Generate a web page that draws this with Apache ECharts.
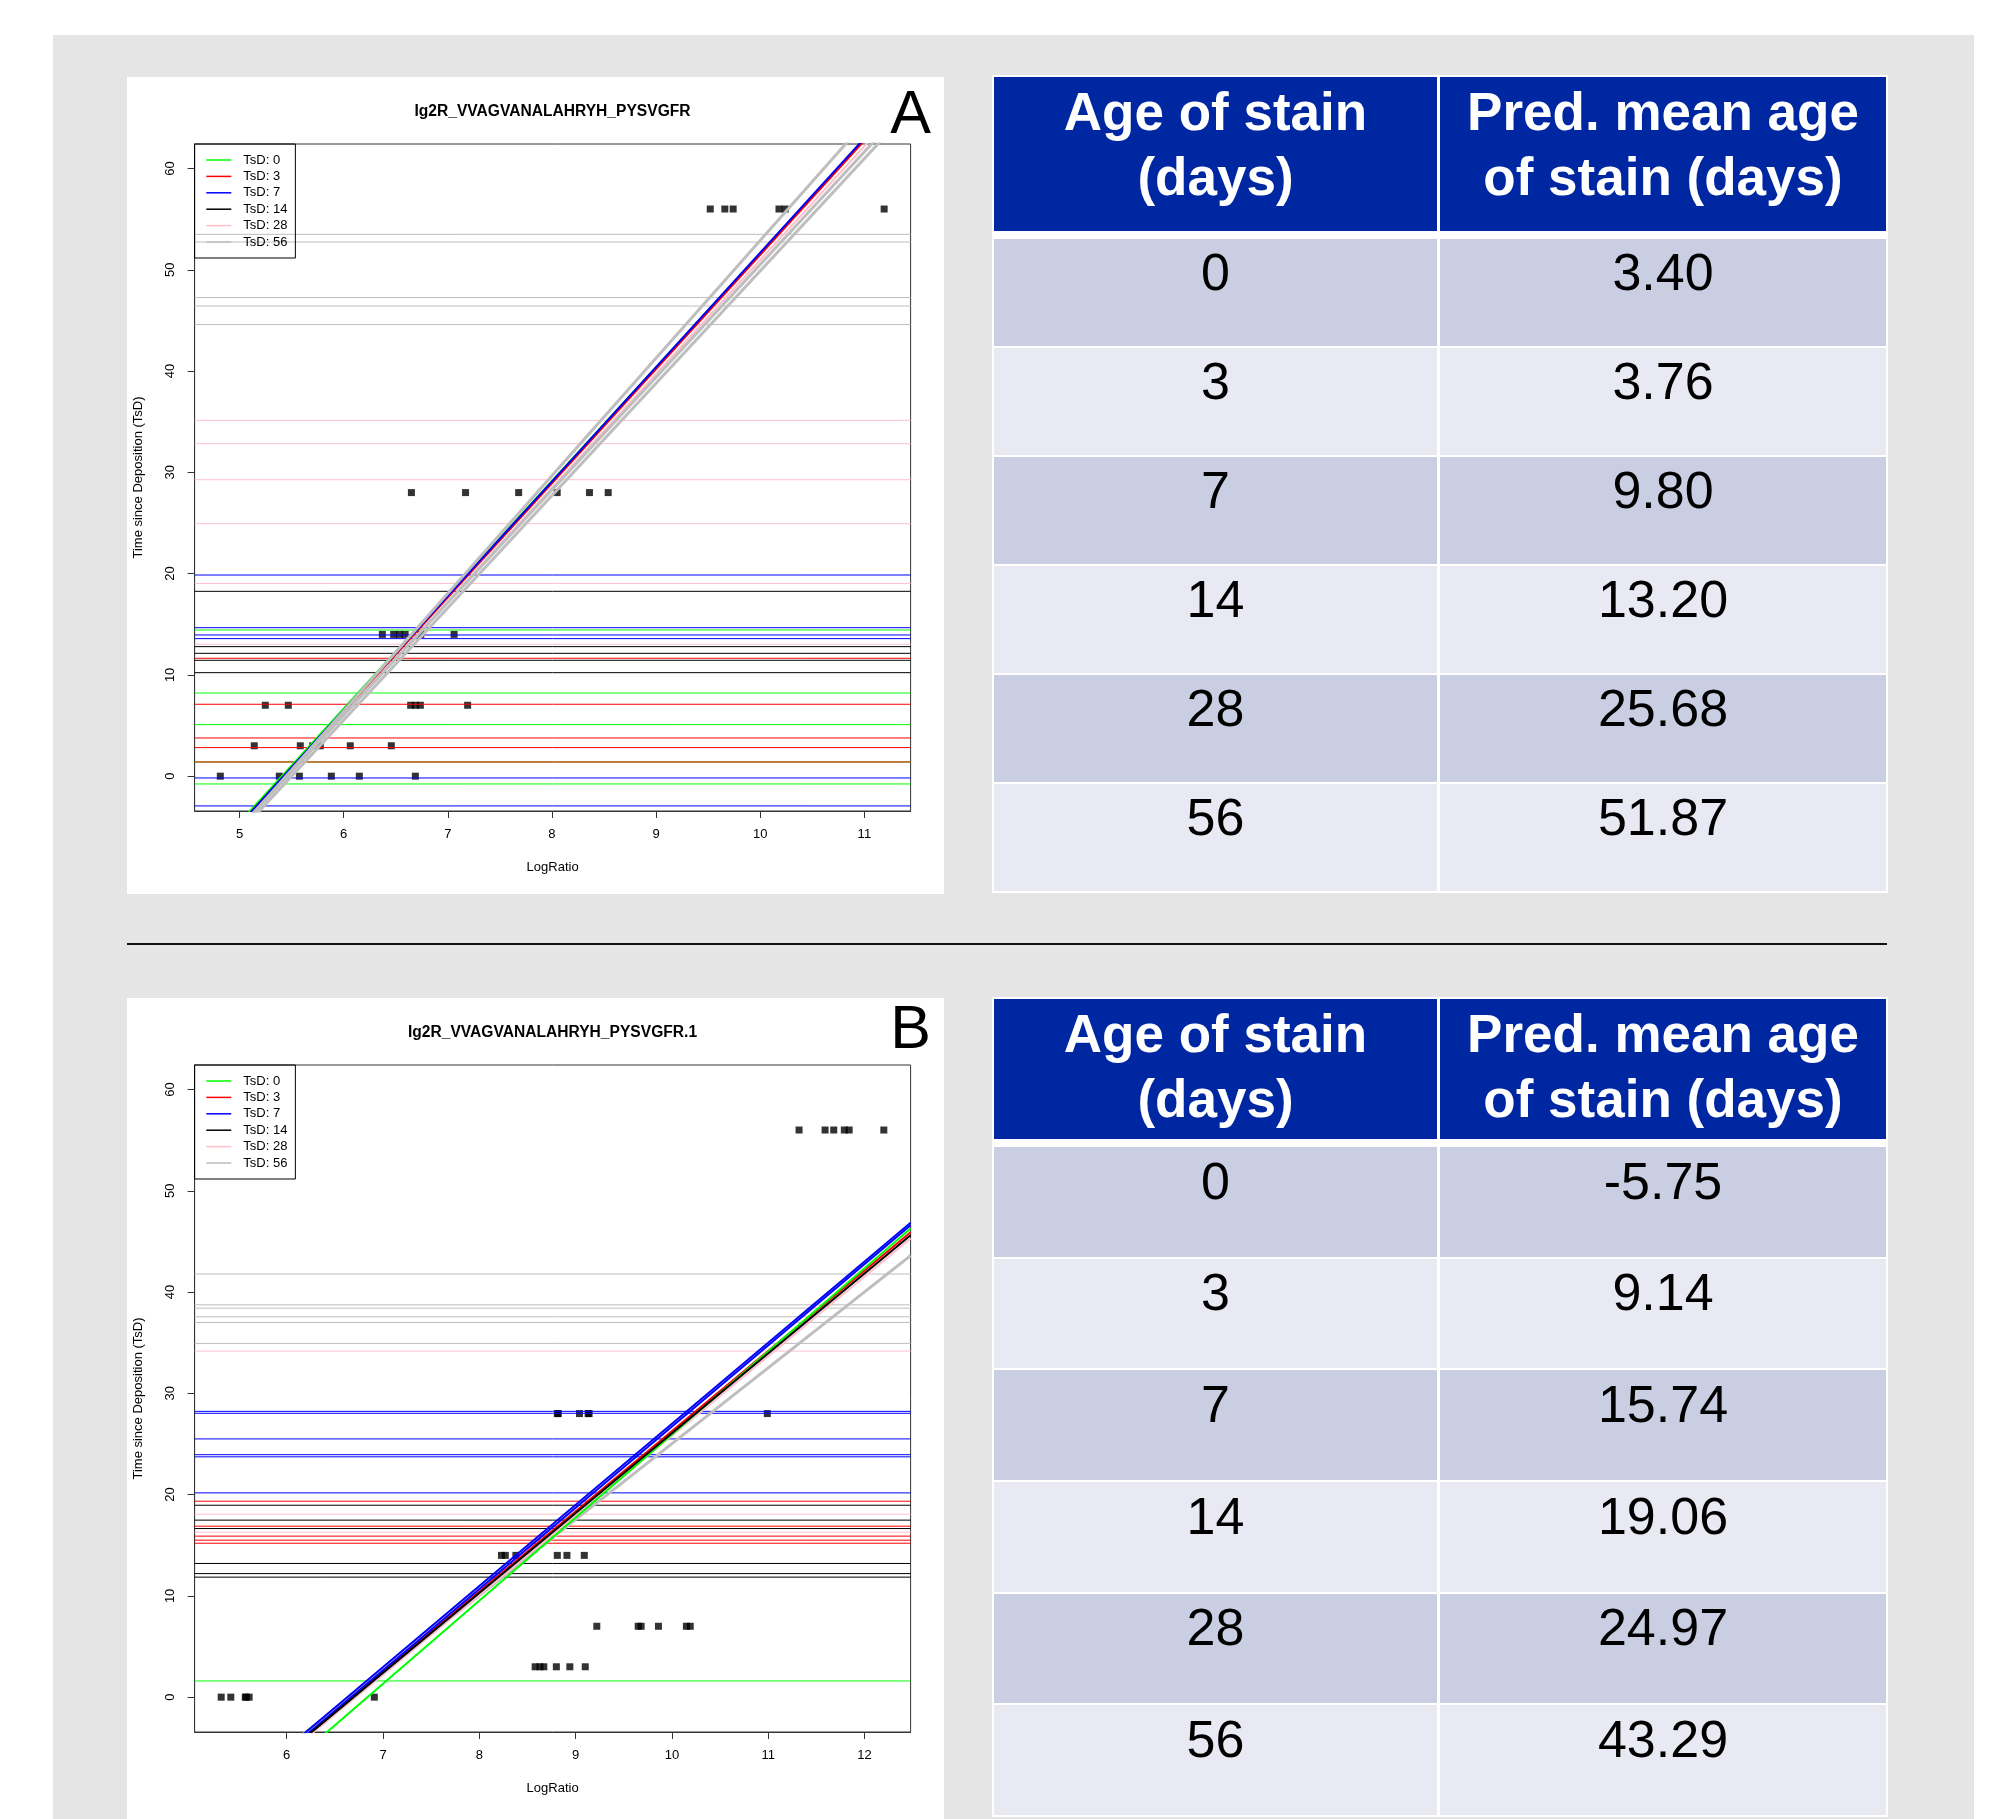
<!DOCTYPE html>
<html>
<head>
<meta charset="utf-8">
<title>Ig2R_VVAGVANALAHRYH_PYSVGFR</title>
<script src="https://cdn.jsdelivr.net/npm/echarts@6.0.0/dist/echarts.min.js"></script>
<style>
  html, body { margin: 0; padding: 0; background: #fff; }
  body { width: 1990px; height: 1819px; position: relative; overflow: hidden;
         font-family: "Liberation Sans", Arial, Helvetica, sans-serif; }
  #bg { position: absolute; left: 53px; top: 35px; width: 1921px; height: 1784px; background: #e5e5e5; }
  .panel { position: absolute; left: 127px; width: 817px; background: #fff; }
  #chartA { top: 77px; height: 817px; }
  #chartB { top: 998px; height: 821px; }
  #sep { position: absolute; left: 127px; top: 943px; width: 1760px; height: 2px; background: #111; }
  .tbl { position: absolute; left: 992px; width: 896px; box-sizing: border-box; padding: 2px;
         background: #fff; display: grid; grid-template-columns: 443px 446px; column-gap: 3px; row-gap: 2px; }
  .tbl .hd { background: #0027a2; color: #fff; font-weight: bold; font-size: 53px; line-height: 65px;
             text-align: center; padding-top: 2px; box-sizing: border-box; margin-bottom: 6px; }
  .tbl .cell { font-size: 52px; line-height: 60px; text-align: center; box-sizing: border-box; color: #000; }
  .tbl .odd { background: #cacee2; }
  .tbl .even { background: #e8e9f2; }
  #tableA { top: 75px; }
  #tableA .hd { height: 154px; }
  #tableA .cell { height: 107px; padding-top: 2.5px; }
  #tableB { top: 997px; }
  #tableB .hd { height: 140px; }
  #tableB .cell { height: 109.7px; padding-top: 3.5px; }
</style>
</head>
<body>
<div id="bg"></div>
<div id="chartA" class="panel"></div>
<div id="chartB" class="panel"></div>
<div id="sep"></div>
<div id="tableA" class="tbl"></div>
<div id="tableB" class="tbl"></div>
<script>
// 共用：TsD分组、图例名、颜色 (R: green, red, blue, black, pink, gray)
const tsdLevels = [0, 3, 7, 14, 28, 56];
const legendNames = tsdLevels.map(d => 'TsD: ' + d);
const groupColors = ['#00ff00', '#ff0000', '#0000ff', '#000000', '#ffc0cb', '#bebebe'];
const fitWidths = [2, 2, 2, 2, 2, 3];   // 拟合线宽度（灰色较粗）
const yRange = [-3.44, 62.42];
const yTicks = [0, 10, 20, 30, 40, 50, 60];
const fontFamily = '"Liberation Sans", Arial, Helvetica, sans-serif';

// 表格
const headerCols = [['Age of stain', '(days)'], ['Pred. mean age', 'of stain (days)']];
const predMeanA = [3.40, 3.76, 9.80, 13.20, 25.68, 51.87];
const predMeanB = [-5.75, 9.14, 15.74, 19.06, 24.97, 43.29];

// ---- A ----
const titleA = 'Ig2R_VVAGVANALAHRYH_PYSVGFR';
const xRangeA = [4.568, 11.444];
const xTicksA = [5, 6, 7, 8, 9, 10, 11];
// 每个TsD分组的样本 LogRatio
const logRatioA = [
    [4.815, 5.381, 5.574, 5.881, 6.15, 6.688],
    [5.141, 5.583, 5.702, 5.775, 6.063, 6.457],
    [5.247, 5.468, 6.643, 6.688, 6.736, 7.19],
    [6.371, 6.48, 6.535, 6.59, 6.74, 7.06],
    [6.65, 7.17, 7.68, 8.05, 8.36, 8.54],
    [9.52, 9.66, 9.74, 10.18, 10.24, 11.19]
];
// 每个分组的水平线 (预测TsD)
const hLinesA = [
    [14.43, 8.21, 5.09, 1.40, -0.77],
    [11.64, 7.10, 3.77, 2.82, 1.40],
    [19.86, 14.66, 13.94, 13.58, -0.18, -2.94],
    [18.25, 12.79, 12.13, 11.44, 10.22],
    [35.13, 32.83, 29.27, 24.93, 19.03, 13.02],
    [53.5, 52.74, 47.26, 46.42, 44.59]
];
// 拟合直线 y = intercept + slope * x （按绘制顺序）
const fitGroupA = [0, 14, 3, 28, 7, 56, 56, 56];
const fitSlopeA = [11.239, 11.277, 11.277, 11.239, 11.297, 11.616, 11.125, 11.088];
const fitInterceptA = [-60.76, -61.18, -61.29, -61.43, -61.28, -63.26, -60.73, -60.99];

// ---- B ----
const titleB = 'Ig2R_VVAGVANALAHRYH_PYSVGFR.1';
const xRangeB = [5.044, 12.478];
const xTicksB = [6, 7, 8, 9, 10, 11, 12];
const logRatioB = [
    [5.32, 5.42, 5.57, 5.58, 5.61, 6.91],
    [8.58, 8.63, 8.67, 8.80, 8.94, 9.10],
    [9.22, 9.65, 9.68, 9.86, 10.15, 10.19],
    [8.23, 8.27, 8.38, 8.81, 8.91, 9.09],
    [8.81, 8.82, 9.04, 9.13, 9.14, 10.99],
    [11.32, 11.59, 11.68, 11.79, 11.84, 12.20]
];
const hLinesB = [
    [1.6],
    [19.35, 16.88, 15.9, 15.5, 15.2],
    [28.22, 28.03, 25.5, 23.94, 23.73, 20.17],
    [18.95, 17.48, 16.65, 13.2, 12.2, 11.85],
    [34.17, 18.07, 16.29],
    [41.78, 38.74, 38.41, 37.56, 37.0, 34.93]
];
const fitGroupB = [56, 28, 3, 7, 7, 0, 14];
const fitSlopeB = [7.493, 7.864, 7.922, 8.011, 8.022, 8.206, 7.887];
const fitInterceptB = [-49.90, -52.83, -52.95, -53.11, -53.50, -56.12, -52.81];


function buildSeries(logRatio, hLines, fitGroup, fitSlope, fitIntercept, xRange) {
    const series = [];
    const x0 = xRange[0], x1 = xRange[1];

    // 样本点 (pch 15 黑色方块)
    tsdLevels.forEach((d, i) => {
        series.push({
            type: 'scatter', name: 'obs', symbol: 'rect', symbolSize: 7,
            itemStyle: { color: '#000' }, silent: true, z: 2,
            data: logRatio[i].map(v => [v, d])
        });
    });

    // 水平线
    tsdLevels.forEach((d, i) => {
        hLines[i].forEach(v => {
            series.push({
                type: 'line', name: legendNames[i], color: groupColors[i],
                symbol: 'none', showSymbol: false, silent: true, z: 3,
                lineStyle: { width: 1, color: groupColors[i] },
                data: [[x0, v], [x1, v]]
            });
        });
    });

    // 拟合线，超出部分由grid裁剪
    fitGroup.forEach((g, k) => {
        const i = tsdLevels.indexOf(g);
        const m = fitSlope[k], b = fitIntercept[k];
        series.push({
            type: 'line', name: legendNames[i], color: groupColors[i],
            symbol: 'none', showSymbol: false, silent: true, z: 4, clip: true,
            lineStyle: { width: fitWidths[i], color: groupColors[i] },
            data: [[x0, b + m * x0], [x1, b + m * x1]]
        });
    });
    return series;
}


function initPlot(el, title, letter, letterY, xRange, xTicks, series) {
    const chart = echarts.init(el);
    const axisText = { fontSize: 13, color: '#000', fontFamily: fontFamily };

    chart.setOption({
        animation: false,
        backgroundColor: '#fff',
        grid: {
            left: 67.6, top: 67, width: 716, height: 667,
            show: true, borderColor: '#333', borderWidth: 1,
            containLabel: false, outerBoundsMode: 'none'
        },
        legend: {
            orient: 'vertical', align: 'left', left: 67.6, top: 67,
            padding: [8.5, 8, 8.5, 11.7],
            itemWidth: 25, itemHeight: 1.5, itemGap: 1.4,
            borderColor: '#000', borderWidth: 1, borderRadius: 0,
            selectedMode: false,
            textStyle: { fontSize: 13, color: '#000', fontFamily: fontFamily, lineHeight: 15, padding: [0, 0, 0, 7] },
            data: legendNames.map(n => ({ name: n, icon: 'rect' }))
        },
        xAxis: {
            type: 'value', min: xRange[0], max: xRange[1],
            axisLine: { show: true, onZero: false, lineStyle: { color: '#333', width: 1 } },
            axisTick: { show: true, length: 7, customValues: xTicks, lineStyle: { color: '#333' } },
            axisLabel: Object.assign({ customValues: xTicks, margin: 17 }, axisText),
            splitLine: { show: false },
            name: 'LogRatio', nameLocation: 'middle', nameGap: 50,
            nameTextStyle: axisText
        },
        yAxis: {
            type: 'value', min: yRange[0], max: yRange[1],
            axisLine: { show: true, onZero: false, lineStyle: { color: '#333', width: 1 } },
            axisTick: { show: true, length: 7, customValues: yTicks, lineStyle: { color: '#333' } },
            axisLabel: Object.assign({ customValues: yTicks, rotate: 90, margin: 18 }, axisText),
            splitLine: { show: false },
            name: 'Time since Deposition (TsD)', nameLocation: 'middle', nameGap: 50, nameRotate: 90,
            nameTextStyle: axisText
        },
        graphic: [
            {
                type: 'text', x: 425.5, y: 34.5, silent: true,
                style: { text: title, fill: '#000', fontSize: 15.6, fontWeight: 'bold', fontFamily: fontFamily,
                         align: 'center', verticalAlign: 'middle', textAlign: 'center', textVerticalAlign: 'middle' }
            },
            {
                type: 'text', x: 804, y: letterY, silent: true,
                style: { text: letter, fill: '#000', fontSize: 61, fontFamily: fontFamily,
                         align: 'right', verticalAlign: 'middle', textAlign: 'right', textVerticalAlign: 'middle' }
            }
        ],
        series: series
    });
    return chart;
}


function buildTable(el, preds) {
    let html = '';
    headerCols.forEach(lines => { html += '<div class="hd">' + lines.join('<br>') + '</div>'; });
    tsdLevels.forEach((d, i) => {
        const cls = i % 2 === 0 ? 'odd' : 'even';
        html += '<div class="cell ' + cls + '">' + d + '</div>';
        html += '<div class="cell ' + cls + '">' + preds[i].toFixed(2) + '</div>';
    });
    el.innerHTML = html;
}


initPlot(document.getElementById('chartA'), titleA, 'A', 38.8, xRangeA, xTicksA,
    buildSeries(logRatioA, hLinesA, fitGroupA, fitSlopeA, fitInterceptA, xRangeA));
initPlot(document.getElementById('chartB'), titleB, 'B', 33.3, xRangeB, xTicksB,
    buildSeries(logRatioB, hLinesB, fitGroupB, fitSlopeB, fitInterceptB, xRangeB));
buildTable(document.getElementById('tableA'), predMeanA);
buildTable(document.getElementById('tableB'), predMeanB);
</script>
</body>
</html>
